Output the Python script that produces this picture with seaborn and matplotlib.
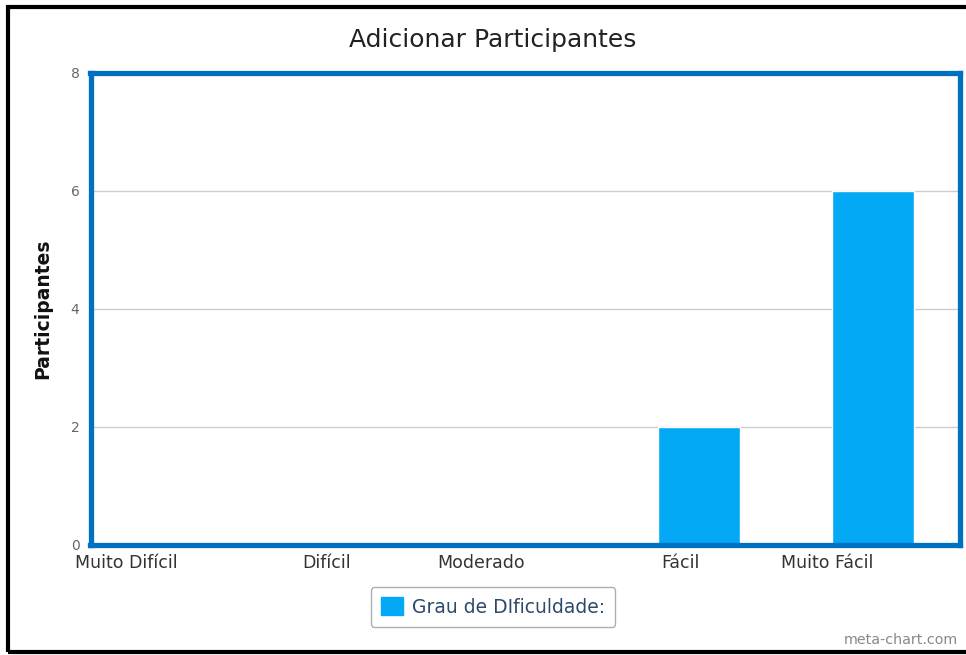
import matplotlib
matplotlib.use("Agg")
import matplotlib.pyplot as plt
import matplotlib.patches as mpatches
import seaborn as sns
import pandas as pd
import numpy as np

# data
categorias = ["Muito Difícil", "Difícil", "Moderado", "Fácil", "Muito Fácil"]
participantes = [0, 0, 0, 2, 6]
serie = "Grau de DIficuldade:"
y_ticks = [0, 2, 4, 6, 8]

bar_color = "#03A9F4"
frame_color = "#0070C0"

df = pd.DataFrame({"categoria": categorias, "participantes": participantes, "serie": serie})

sns.set_theme(style="white")
plt.rcParams["font.family"] = ["DejaVu Sans"]

W, H = 966, 655
fig = plt.figure(figsize=(W / 100, H / 100), dpi=100)
px = lambda x, y: (x / W, 1 - y / H)

left, right, top, bottom = 90.5, 960, 72.5, 545
ax = fig.add_axes([left / W, 1 - bottom / H, (right - left) / W, (bottom - top) / H])

sns.barplot(data=df, x="categoria", y="participantes", hue="serie",
            palette=[bar_color], width=0.47, dodge=False, saturation=1,
            legend=False, ax=ax)

ax.set_xlim(-0.5, len(categorias) - 0.5)
ax.set_ylim(0, 8)
ax.set_yticks(y_ticks)
ax.yaxis.grid(True, color="#CCCCCC", linewidth=1)
ax.set_axisbelow(True)

# labels sit right-aligned on the slot centres, like the original
ax.set_xticks(range(len(categorias)))
ax.set_xticklabels(categorias, ha="right", color="#333333", fontsize=12.5)
ax.set_xticks(np.arange(-0.5, len(categorias), 1), minor=True)
ax.tick_params(axis="x", which="major", length=0, pad=6.5)
ax.tick_params(axis="x", which="minor", length=4, color="#9DC3E6", width=1, direction="out")
ax.tick_params(axis="y", length=0, pad=8, labelsize=10, labelcolor="#666666")
for lbl in ax.get_yticklabels():
    lbl.set_va("center_baseline")

for s in ax.spines.values():
    s.set_visible(True)
    s.set_color(frame_color)
    s.set_linewidth(3.8)

ax.set_xlabel("")
ax.set_ylabel("Participantes", fontsize=13.5, fontweight="bold", color="#111111")
ax.yaxis.set_label_coords((52 - left) / (right - left), 0.5)

fig.text(*px(493, 40), "Adicionar Participantes", ha="center", va="center",
         fontsize=18, color="#222222")

handle = mpatches.Patch(color=bar_color, label=serie)
leg = fig.legend(handles=[handle], loc="center", bbox_to_anchor=px(493, 607),
                 frameon=True, fancybox=True, edgecolor="#999999", fontsize=13.5,
                 handlelength=1.15, handleheight=1.1, borderpad=0.55, handletextpad=0.5,
                 borderaxespad=0)
for t in leg.get_texts():
    t.set_color("#2E4A6B")
leg.get_frame().set_linewidth(1)

fig.text(*px(958, 640), "meta-chart.com", ha="right", va="center",
         fontsize=10.3, color="#888888")

# black page border
fig.patches.append(mpatches.Rectangle(px(8, 652), (980 - 8) / W, (652 - 6.5) / H,
                                      transform=fig.transFigure, fill=False,
                                      edgecolor="black", linewidth=3))

plt.savefig("out.png", dpi=100, facecolor="white")
plt.close()
